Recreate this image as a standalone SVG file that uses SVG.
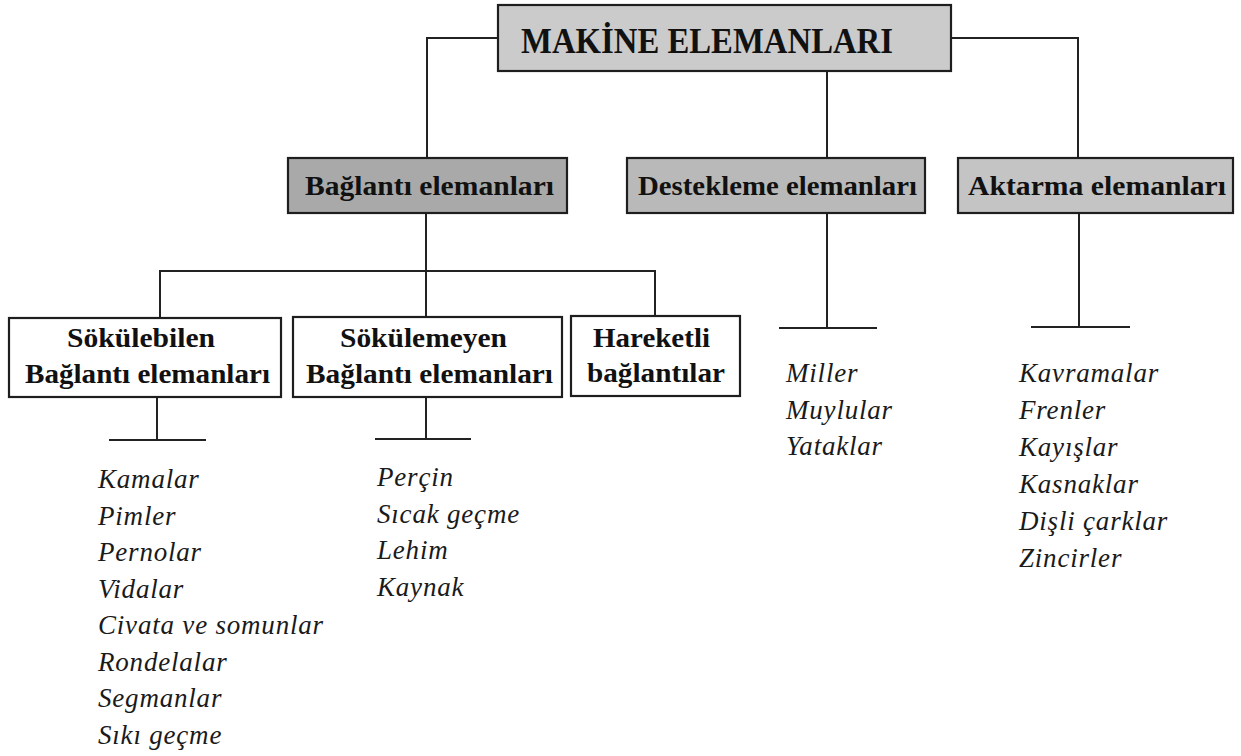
<svg xmlns="http://www.w3.org/2000/svg" width="1241" height="756" viewBox="0 0 1241 756">
<style>
.box{stroke:#1e1e1e;stroke-width:2.2}
.b{font-family:"Liberation Serif","Times New Roman",serif;font-weight:bold;fill:#111}
.it{font-family:"Liberation Serif","Times New Roman",serif;font-style:italic;font-size:27px;letter-spacing:0.8px;fill:#1a1a1a}
.ln{stroke:#222;stroke-width:2;fill:none}
</style>
<rect width="1241" height="756" fill="#fff"/>
<g id="connectors">
<polyline class="ln" points="498,38 427,38 427,158"/>
<polyline class="ln" points="951,38 1078,38 1078,158"/>
<line class="ln" x1="827" y1="71" x2="827" y2="158"/>
<line class="ln" x1="426" y1="213" x2="426" y2="271"/>
<polyline class="ln" points="160,318 160,271 655,271 655,316"/>
<line class="ln" x1="426" y1="271" x2="426" y2="317"/>
<line class="ln" x1="827" y1="213" x2="827" y2="328"/>
<line class="ln" x1="779" y1="328" x2="877" y2="328"/>
<line class="ln" x1="1079" y1="213" x2="1079" y2="327"/>
<line class="ln" x1="1031" y1="327" x2="1130" y2="327"/>
<line class="ln" x1="157" y1="397" x2="157" y2="440"/>
<line class="ln" x1="109" y1="440" x2="206" y2="440"/>
<line class="ln" x1="426" y1="397" x2="426" y2="439"/>
<line class="ln" x1="375" y1="439" x2="471" y2="439"/>
</g>
<g id="makine">
<rect class="box" x="498" y="5" width="453" height="66" fill="#cbcbcb"/>
<text class="b" x="521" y="53" font-size="36" textLength="372" lengthAdjust="spacingAndGlyphs">MAKİNE ELEMANLARI</text>
</g>
<g id="baglanti">
<rect class="box" x="288" y="158" width="279" height="55" fill="#a9a9a9"/>
<text class="b" x="305" y="195" font-size="28" textLength="249" lengthAdjust="spacingAndGlyphs">Bağlantı elemanları</text>
</g>
<g id="destekleme">
<rect class="box" x="627" y="158" width="298" height="55" fill="#b9b9b9"/>
<text class="b" x="638" y="195" font-size="28" textLength="279" lengthAdjust="spacingAndGlyphs">Destekleme elemanları</text>
</g>
<g id="aktarma">
<rect class="box" x="958" y="158" width="275" height="55" fill="#c4c4c4"/>
<text class="b" x="968" y="195" font-size="28" textLength="258" lengthAdjust="spacingAndGlyphs">Aktarma elemanları</text>
</g>
<g id="sokulebilen">
<rect class="box" x="9" y="318" width="272" height="79" fill="#fff"/>
<text class="b" x="67" y="347" font-size="27" textLength="148" lengthAdjust="spacingAndGlyphs">Sökülebilen</text>
<text class="b" x="25" y="383" font-size="27" textLength="245" lengthAdjust="spacingAndGlyphs">Bağlantı elemanları</text>
</g>
<g id="sokulemeyen">
<rect class="box" x="293" y="317" width="269" height="80" fill="#fff"/>
<text class="b" x="340" y="347" font-size="27" textLength="167" lengthAdjust="spacingAndGlyphs">Sökülemeyen</text>
<text class="b" x="306" y="383" font-size="27" textLength="247" lengthAdjust="spacingAndGlyphs">Bağlantı elemanları</text>
</g>
<g id="hareketli">
<rect class="box" x="571" y="316" width="169" height="80" fill="#fff"/>
<text class="b" x="593" y="347" font-size="27" textLength="117" lengthAdjust="spacingAndGlyphs">Hareketli</text>
<text class="b" x="587" y="382" font-size="27" textLength="138" lengthAdjust="spacingAndGlyphs">bağlantılar</text>
</g>
<g id="list-sokulebilen">
<text class="it" x="98" y="488">Kamalar</text>
<text class="it" x="98" y="524.5">Pimler</text>
<text class="it" x="98" y="561">Pernolar</text>
<text class="it" x="98" y="597.5">Vidalar</text>
<text class="it" x="98" y="634">Civata ve somunlar</text>
<text class="it" x="98" y="670.5">Rondelalar</text>
<text class="it" x="98" y="707">Segmanlar</text>
<text class="it" x="98" y="743.5">Sıkı geçme</text>
</g>
<g id="list-sokulemeyen">
<text class="it" x="377" y="486">Perçin</text>
<text class="it" x="377" y="522.5">Sıcak geçme</text>
<text class="it" x="377" y="559">Lehim</text>
<text class="it" x="377" y="595.5">Kaynak</text>
</g>
<g id="list-destekleme">
<text class="it" x="786" y="382">Miller</text>
<text class="it" x="786" y="418.5">Muylular</text>
<text class="it" x="786" y="455">Yataklar</text>
</g>
<g id="list-aktarma">
<text class="it" x="1019" y="382">Kavramalar</text>
<text class="it" x="1019" y="419">Frenler</text>
<text class="it" x="1019" y="456">Kayışlar</text>
<text class="it" x="1019" y="493">Kasnaklar</text>
<text class="it" x="1019" y="530">Dişli çarklar</text>
<text class="it" x="1019" y="567">Zincirler</text>
</g>
</svg>
